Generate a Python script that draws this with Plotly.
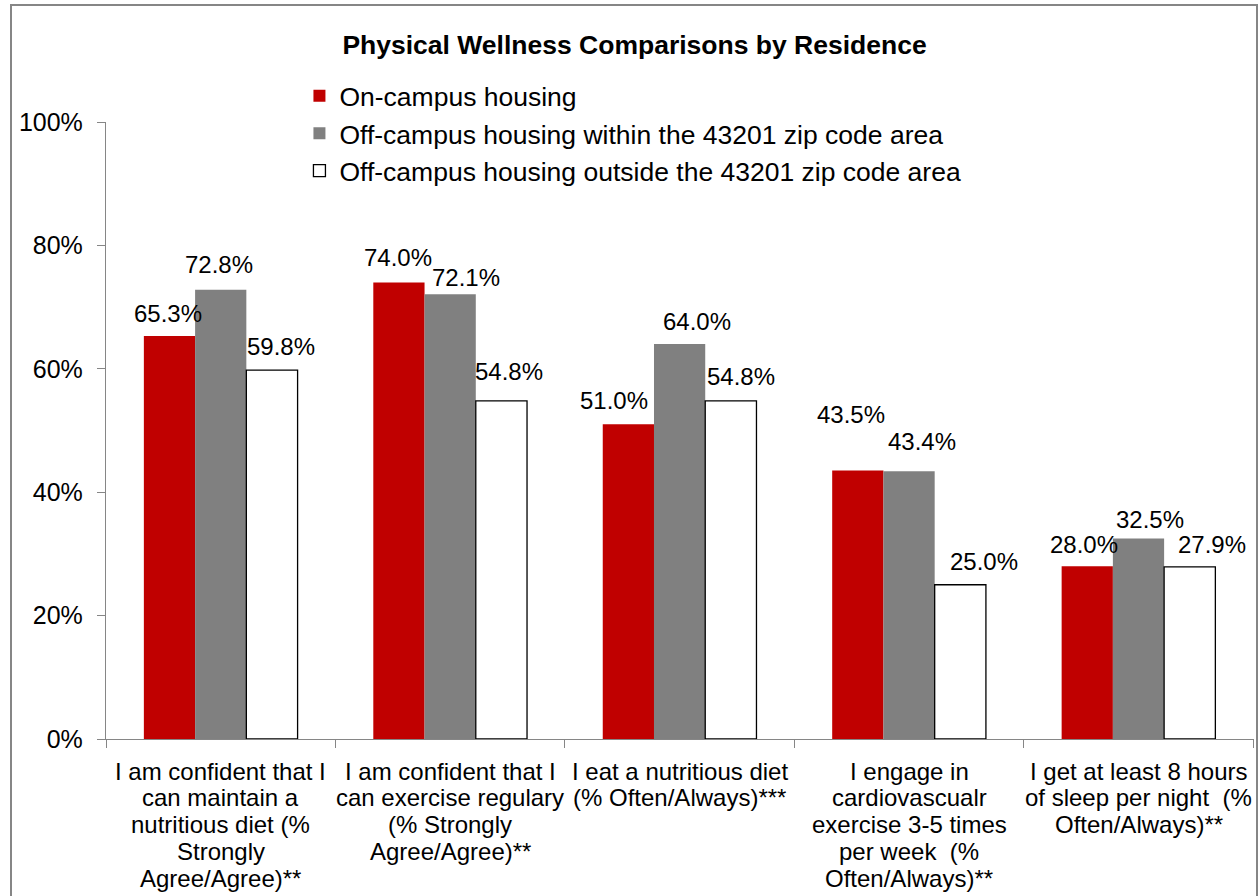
import plotly.graph_objects as go

# ---------------- data ----------------
categories = [
    "I am confident that I<br>can maintain a<br>nutritious diet (%<br>Strongly<br>Agree/Agree)**",
    "I am confident that I<br>can exercise regulary<br>(% Strongly<br>Agree/Agree)**",
    "I eat a nutritious diet<br>(% Often/Always)***",
    "I engage in<br>cardiovascualr<br>exercise 3-5 times<br>per week \u00a0(%<br>Often/Always)**",
    "I get at least 8 hours<br>of sleep per night \u00a0(%<br>Often/Always)**",
]
series_names = [
    "On-campus housing",
    "Off-campus housing within the 43201 zip code area",
    "Off-campus housing outside the 43201 zip code area",
]
on_campus = [65.3, 74.0, 51.0, 43.5, 28.0]
off_within = [72.8, 72.1, 64.0, 43.4, 32.5]
off_outside = [59.8, 54.8, 54.8, 25.0, 27.9]
y_tick_values = [0, 20, 40, 60, 80, 100]
y_tick_labels = ["0%", "20%", "40%", "60%", "80%", "100%"]

# ---------------- style ----------------
FONT = "Arial, 'Liberation Sans', Helvetica, sans-serif"
colors = ["#C00000", "#808080", "#FFFFFF"]
line_colors = ["#C00000", "#808080", "#000000"]
line_widths = [0, 0, 1.3]
AXIS_COLOR = "#868686"
W, H = 1259, 896
ML, MR, MT, MB = 106, 5, 122, 157
BARGAP = 0.33
CAT_FONT = 24
CAT_LINE = 26.8      # single line spacing of the original (1.117 em)
CAT_FIRST = 32       # distance of first label line below the axis

# manual nudges of data labels (pixels: dx right, dy up), as in the original chart
label_shift = {
    (0, 0): (-1, 23), (1, 0): (-2, 25), (2, 0): (9, 24),
    (0, 1): (-1, 25), (1, 1): (16, 17), (2, 1): (8, 29),
    (0, 2): (-14, 24), (1, 2): (17, 23), (2, 2): (10, 24),
    (0, 3): (-7, 56), (1, 3): (13, 30), (2, 3): (24, 23),
    (0, 4): (-3, 22), (1, 4): (11, 19), (2, 4): (22, 22),
}

fig = go.Figure()
series = [on_campus, off_within, off_outside]
for name, vals, c, lc, lw in zip(series_names, series, colors, line_colors, line_widths):
    fig.add_trace(go.Bar(
        x=list(range(len(categories))),
        y=vals,
        name=name,
        marker=dict(color=c, line=dict(color=lc, width=lw)),
        hoverinfo="skip",
    ))

# data labels above bars (through axis coordinates)
bar_w = (1 - BARGAP) / 3
for k, vals in enumerate(series):
    for i, v in enumerate(vals):
        dx, dy = label_shift.get((k, i), (0, 24))
        fig.add_annotation(
            x=i + (k - 1) * bar_w, y=v, xref="x", yref="y",
            text=f"{v:.1f}%", showarrow=False,
            yanchor="middle", xanchor="center", xshift=dx, yshift=dy,
            font=dict(family=FONT, size=24, color="black"),
        )

# category labels (one text line each, tight line spacing like the original)
for i, cat in enumerate(categories):
    for j, line in enumerate(cat.split("<br>")):
        fig.add_annotation(
            x=i, y=0, xref="x", yref="paper",
            text=line, showarrow=False,
            xanchor="center", yanchor="middle",
            yshift=-(CAT_FIRST + j * CAT_LINE),
            font=dict(family=FONT, size=CAT_FONT, color="black"),
        )

pw = W - ML - MR
ph = H - MT - MB
fig.add_shape(
    type="rect", xref="paper", yref="paper",
    x0=(11 - ML) / pw, x1=(1257 - ML) / pw,
    y0=(H - MB - 910) / ph, y1=(H - MB - 5) / ph,
    line=dict(color=AXIS_COLOR, width=2), fillcolor="rgba(0,0,0,0)", layer="below",
)

fig.update_layout(
    width=W, height=H,
    margin=dict(l=ML, r=MR, t=MT, b=MB, pad=0, autoexpand=False),
    paper_bgcolor="white", plot_bgcolor="white",
    barmode="group", bargap=BARGAP, bargroupgap=0,
    font=dict(family=FONT, color="black", size=24),
    title=dict(
        text="<b>Physical Wellness Comparisons by Residence</b>",
        x=0.504, xref="container", xanchor="center",
        y=1 - 45 / H, yref="container", yanchor="middle",
        font=dict(family=FONT, size=26.5, color="black"),
    ),
    legend=dict(
        x=0.1685, y=1.081, xanchor="left", yanchor="top",
        orientation="v", traceorder="normal",
        font=dict(family=FONT, size=26.5, color="black"),
        bgcolor="rgba(0,0,0,0)",
    ),
    showlegend=True,
)

fig.update_xaxes(
    type="category", automargin=False,
    tickmode="array", tickvals=list(range(len(categories))),
    ticktext=[""] * len(categories), showticklabels=False,
    showline=True, linecolor=AXIS_COLOR, linewidth=1.3,
    ticks="outside", ticklen=8, tickcolor=AXIS_COLOR, tickwidth=1.3,
    tickson="boundaries",
    showgrid=False, zeroline=False,
)
fig.update_yaxes(
    range=[0, 100], automargin=False,
    tickmode="array", tickvals=y_tick_values, ticktext=y_tick_labels,
    showline=True, linecolor=AXIS_COLOR, linewidth=1.3,
    ticks="outside", ticklen=8, tickcolor=AXIS_COLOR, tickwidth=1.3,
    showgrid=False, zeroline=False,
    tickfont=dict(family=FONT, size=25, color="black"),
    ticklabelstandoff=9,
)

fig.write_html(
    "out.html",
    config={"displayModeBar": False},
    post_script="document.body.style.margin='0px';document.body.style.overflow='hidden';",
)
